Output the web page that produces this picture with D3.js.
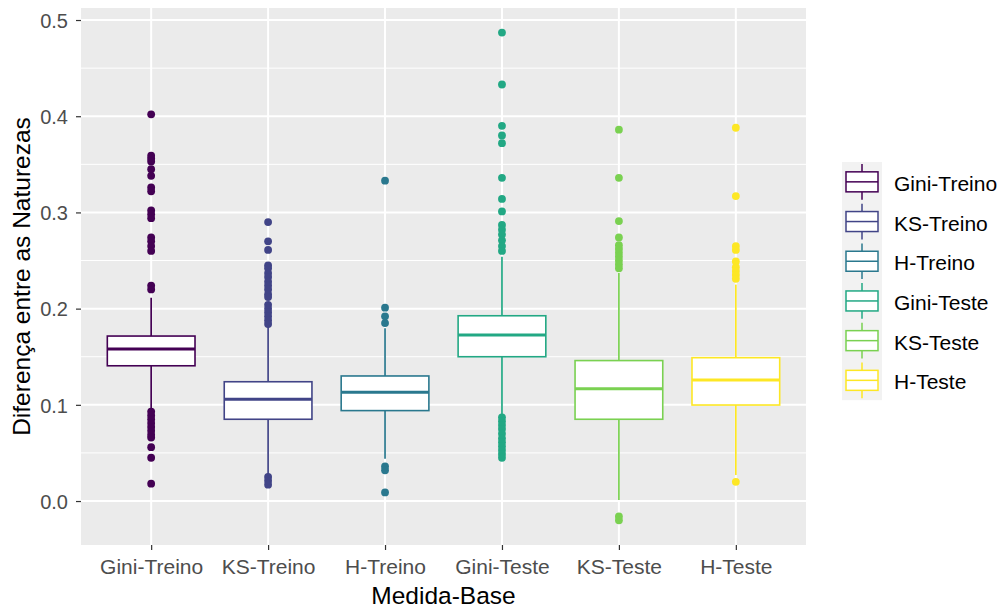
<!DOCTYPE html>
<html>
<head>
<meta charset="utf-8">
<script src="https://cdn.jsdelivr.net/npm/d3@7"></script>
<style>
  body { margin: 0; background: #fff; }
  text { font-family: "Liberation Sans", Arial, sans-serif; }
</style>
</head>
<body>
<div id="chart"></div>
<script>
// data
const groups = ["Gini-Treino", "KS-Treino", "H-Treino", "Gini-Teste", "KS-Teste", "H-Teste"];
const colors = ["#440154", "#414487", "#2A788E", "#22A884", "#7AD151", "#FDE725"];
const whiskerLow = [0.096, 0.028, 0.044, 0.089, 0.001, 0.027];
const q1 = [0.1406, 0.085, 0.094, 0.150, 0.085, 0.0998];
const median = [0.158, 0.1057, 0.113, 0.1726, 0.1167, 0.1258];
const q3 = [0.1715, 0.124, 0.130, 0.1926, 0.146, 0.149];
const whiskerHigh = [0.2113, 0.181, 0.1795, 0.254, 0.237, 0.225];
const outliers = [
    [0.402, 0.359, 0.356, 0.353, 0.345, 0.338, 0.326, 0.322, 0.302, 0.298, 0.294, 0.274, 0.27, 0.265, 0.26, 0.224, 0.22,
     0.093, 0.089, 0.085, 0.081, 0.077, 0.073, 0.069, 0.066, 0.056, 0.045, 0.018],
    [0.29, 0.27, 0.261, 0.245, 0.242, 0.237, 0.233, 0.228, 0.224, 0.22, 0.215, 0.212, 0.204, 0.2, 0.196, 0.192, 0.188, 0.184,
     0.025, 0.021, 0.017],
    [0.333, 0.201, 0.192, 0.185, 0.036, 0.032, 0.009],
    [0.487, 0.433, 0.39, 0.38, 0.372, 0.336, 0.314, 0.301, 0.287, 0.282, 0.277, 0.271, 0.265, 0.26,
     0.087, 0.083, 0.079, 0.075, 0.07, 0.065, 0.061, 0.057, 0.053, 0.049, 0.045],
    [0.386, 0.336, 0.291, 0.274, 0.266, 0.262, 0.258, 0.254, 0.25, 0.246, 0.242, -0.016, -0.02],
    [0.388, 0.317, 0.265, 0.261, 0.249, 0.243, 0.239, 0.235, 0.231, 0.020]
];
const yTicks = [0.0, 0.1, 0.2, 0.3, 0.4, 0.5];
const yMinor = [0.05, 0.15, 0.25, 0.35, 0.45];

// layout
const svgWidth = 1000,
    svgHeight = 608,
    margin = { top: 8, right: 194, bottom: 63, left: 81 },
    width = svgWidth - margin.left - margin.right,
    height = svgHeight - margin.top - margin.bottom;

const svg = d3.select("#chart").append("svg")
    .attr("width", svgWidth)
    .attr("height", svgHeight);

const g = svg.append("g")
    .attr("transform", `translate(${margin.left},${margin.top})`);

// scales
const x = d3.scalePoint()
    .domain(groups)
    .range([0, width])
    .padding(0.6);
const step = x.step();
const boxW = step * 0.75;

const y = d3.scaleLinear()
    .domain([-0.0457, 0.5125])
    .range([height, 0]);

// panel + grid
g.append("rect")
    .attr("width", width)
    .attr("height", height)
    .attr("fill", "#EBEBEB");

g.selectAll(".minor")
    .data(yMinor)
    .join("line")
    .attr("x1", 0).attr("x2", width)
    .attr("y1", d => y(d)).attr("y2", d => y(d))
    .attr("stroke", "#fff").attr("stroke-width", 1);

g.selectAll(".major")
    .data(yTicks)
    .join("line")
    .attr("x1", 0).attr("x2", width)
    .attr("y1", d => y(d)).attr("y2", d => y(d))
    .attr("stroke", "#fff").attr("stroke-width", 2);

g.selectAll(".vgrid")
    .data(groups)
    .join("line")
    .attr("x1", d => x(d)).attr("x2", d => x(d))
    .attr("y1", 0).attr("y2", height)
    .attr("stroke", "#fff").attr("stroke-width", 2);

// axes
const yAxis = g.append("g")
    .call(d3.axisLeft(y).tickValues(yTicks).tickFormat(d3.format(".1f")).tickSize(5).tickPadding(8));
const xAxis = g.append("g")
    .attr("transform", `translate(0,${height})`)
    .call(d3.axisBottom(x).tickSize(5).tickPadding(8));

[xAxis, yAxis].forEach(a => {
    a.select(".domain").remove();
    a.selectAll(".tick line").attr("stroke", "#333").attr("stroke-width", 1.2);
    a.selectAll(".tick text")
        .attr("fill", "#4D4D4D")
        .style("font-size", "21px")
        .style("font-family", "'Liberation Sans', Arial, sans-serif");
});
yAxis.selectAll(".tick text").attr("dy", "0.36em").style("font-size", "20px");
xAxis.selectAll(".tick text").attr("dy", "0.76em");

// axis titles
svg.append("text")
    .attr("x", margin.left + width / 2)
    .attr("y", 604)
    .attr("text-anchor", "middle")
    .style("font-size", "24.5px")
    .text("Medida-Base");

svg.append("text")
    .attr("transform", `translate(30, ${margin.top + height / 2}) rotate(-90)`)
    .attr("text-anchor", "middle")
    .style("font-size", "24.5px")
    .text("Diferença entre as Naturezas");

// boxes
const boxes = g.selectAll(".box")
    .data(groups)
    .join("g")
    .attr("class", "box");

boxes.append("line")
    .attr("x1", d => x(d)).attr("x2", d => x(d))
    .attr("y1", (d, i) => y(whiskerHigh[i])).attr("y2", (d, i) => y(q3[i]))
    .attr("stroke", (d, i) => colors[i]).attr("stroke-width", 1.7);
boxes.append("line")
    .attr("x1", d => x(d)).attr("x2", d => x(d))
    .attr("y1", (d, i) => y(q1[i])).attr("y2", (d, i) => y(whiskerLow[i]))
    .attr("stroke", (d, i) => colors[i]).attr("stroke-width", 1.7);
boxes.append("rect")
    .attr("x", d => x(d) - boxW / 2)
    .attr("width", boxW)
    .attr("y", (d, i) => y(q3[i]))
    .attr("height", (d, i) => y(q1[i]) - y(q3[i]))
    .attr("fill", "#fff")
    .attr("stroke", (d, i) => colors[i]).attr("stroke-width", 1.6);
boxes.append("line")
    .attr("x1", d => x(d) - boxW / 2).attr("x2", d => x(d) + boxW / 2)
    .attr("y1", (d, i) => y(median[i])).attr("y2", (d, i) => y(median[i]))
    .attr("stroke", (d, i) => colors[i]).attr("stroke-width", 3);

boxes.each(function (d, i) {
    d3.select(this).selectAll("circle")
        .data(outliers[i])
        .join("circle")
        .attr("cx", x(d))
        .attr("cy", v => y(v))
        .attr("r", 3.9)
        .attr("fill", colors[i]);
});

// legend
const keyH = 39.7, keyTop = 162, keyLeft = 842, keyW = 40;
const legend = svg.append("g");
legend.append("rect")
    .attr("x", keyLeft).attr("y", keyTop)
    .attr("width", keyW).attr("height", keyH * groups.length)
    .attr("fill", "#F2F2F2");

const keys = legend.selectAll(".key")
    .data(groups)
    .join("g")
    .attr("transform", (d, i) => `translate(${keyLeft}, ${keyTop + i * keyH})`);

keys.append("line")
    .attr("x1", keyW / 2).attr("x2", keyW / 2)
    .attr("y1", 2).attr("y2", keyH - 2)
    .attr("stroke", (d, i) => colors[i]).attr("stroke-width", 1.5);
keys.append("rect")
    .attr("x", 4).attr("y", keyH / 2 - 10)
    .attr("width", keyW - 8).attr("height", 20)
    .attr("fill", "#fff")
    .attr("stroke", (d, i) => colors[i]).attr("stroke-width", 1.5);
keys.append("line")
    .attr("x1", 4).attr("x2", keyW - 4)
    .attr("y1", keyH / 2).attr("y2", keyH / 2)
    .attr("stroke", (d, i) => colors[i]).attr("stroke-width", 1.5);
keys.append("text")
    .attr("x", 52)
    .attr("y", keyH / 2 + 1.5)
    .attr("dy", "0.36em")
    .style("font-size", "21px")
    .text(d => d);
</script>
</body>
</html>
